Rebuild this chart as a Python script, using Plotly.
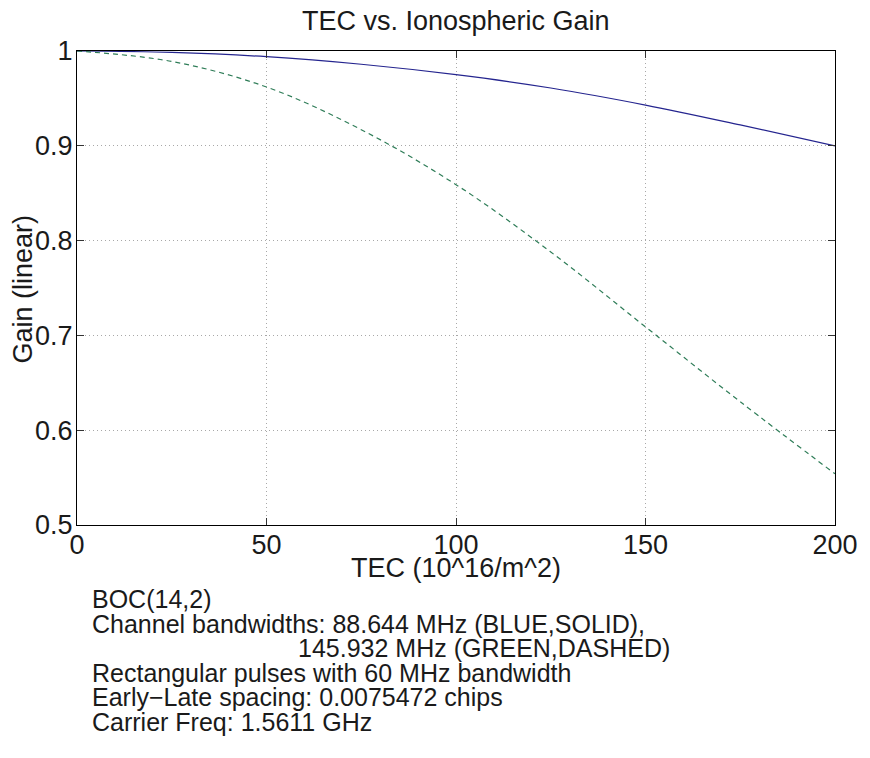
import plotly.graph_objects as go

# ---- data ----
tec = [0, 25, 50, 75, 100, 125, 150, 175, 200]
gain_blue = [1.0, 0.9985, 0.994, 0.986, 0.975, 0.961, 0.943, 0.922, 0.900]
gain_green = [1.0, 0.989, 0.962, 0.917, 0.859, 0.788, 0.709, 0.630, 0.554]

x_ticks = [0, 50, 100, 150, 200]
y_ticks = [0.5, 0.6, 0.7, 0.8, 0.9, 1.0]
y_tick_text = ["0.5", "0.6", "0.7", "0.8", "0.9", "1"]

title_text = "TEC vs. Ionospheric Gain"
x_title = "TEC (10^16/m^2)"
y_title = "Gain (linear)"
notes = [
    ("BOC(14,2)", 90),
    ("Channel bandwidths: 88.644 MHz (BLUE,SOLID),", 90),
    ("145.932 MHz (GREEN,DASHED)", 298),
    ("Rectangular pulses with 60 MHz bandwidth", 90),
    ("Early\u2212Late spacing: 0.0075472 chips", 90),
    ("Carrier Freq: 1.5611 GHz", 90),
]

W, H = 870, 758
L, R, T, B = 77, 27, 51, 233
PW, PH = W - L - R, H - T - B

FONT = "Liberation Sans, Arial, Helvetica, sans-serif"
TXT = "#1a1a1a"


def px(xp):
    return (xp - L) / PW


def py(yp):
    return (H - B - yp) / PH


fig = go.Figure()
fig.add_trace(go.Scatter(x=tec, y=gain_blue, mode="lines",
                         line=dict(color="#25258f", width=1.2, shape="spline")))
fig.add_trace(go.Scatter(x=tec, y=gain_green, mode="lines",
                         line=dict(color="#2f7d58", width=1.2, dash="5px,4px",
                                   shape="spline")))

axis_common = dict(
    showline=True, linecolor="#000000", linewidth=1, mirror="ticks",
    ticks="inside", ticklen=7, tickcolor="#333333", tickwidth=1,
    showgrid=True, gridcolor="#a8a8a8", griddash="1px,3px", gridwidth=1,
    zeroline=False,
    tickfont=dict(family=FONT, size=27, color=TXT),
)

fig.update_xaxes(range=[0, 200], tickvals=x_ticks, ticklabelstandoff=-4,
                 **axis_common)
fig.update_yaxes(range=[0.5, 1.0], tickvals=y_ticks, ticktext=y_tick_text,
                 ticklabelstandoff=-2, **axis_common)

ann = [
    dict(text=title_text, x=px(460), y=py(21), xanchor="center", yanchor="middle",
         font=dict(size=27)),
    dict(text=x_title, x=px(460), y=py(568), xanchor="center", yanchor="middle",
         font=dict(size=27)),
    dict(text=y_title, x=px(22), y=py(289), xanchor="center", yanchor="middle",
         textangle=-90, font=dict(size=27)),
]
line_y = [599, 624, 648, 673, 697, 722]
for (t, xl), yl in zip(notes, line_y):
    ann.append(dict(text=t, x=px(xl), y=py(yl), xanchor="left", yanchor="middle",
                    font=dict(size=25)))
for a in ann:
    a.update(xref="paper", yref="paper", showarrow=False)
    a["font"].update(family=FONT, color=TXT)

fig.update_layout(
    width=W, height=H,
    margin=dict(l=L, r=R, t=T, b=B),
    paper_bgcolor="white", plot_bgcolor="white",
    showlegend=False,
    annotations=ann,
)

fig.write_html(
    "out.html",
    config={"displayModeBar": False},
    post_script="document.body.style.margin='0px';document.body.style.padding='0px';",
)
